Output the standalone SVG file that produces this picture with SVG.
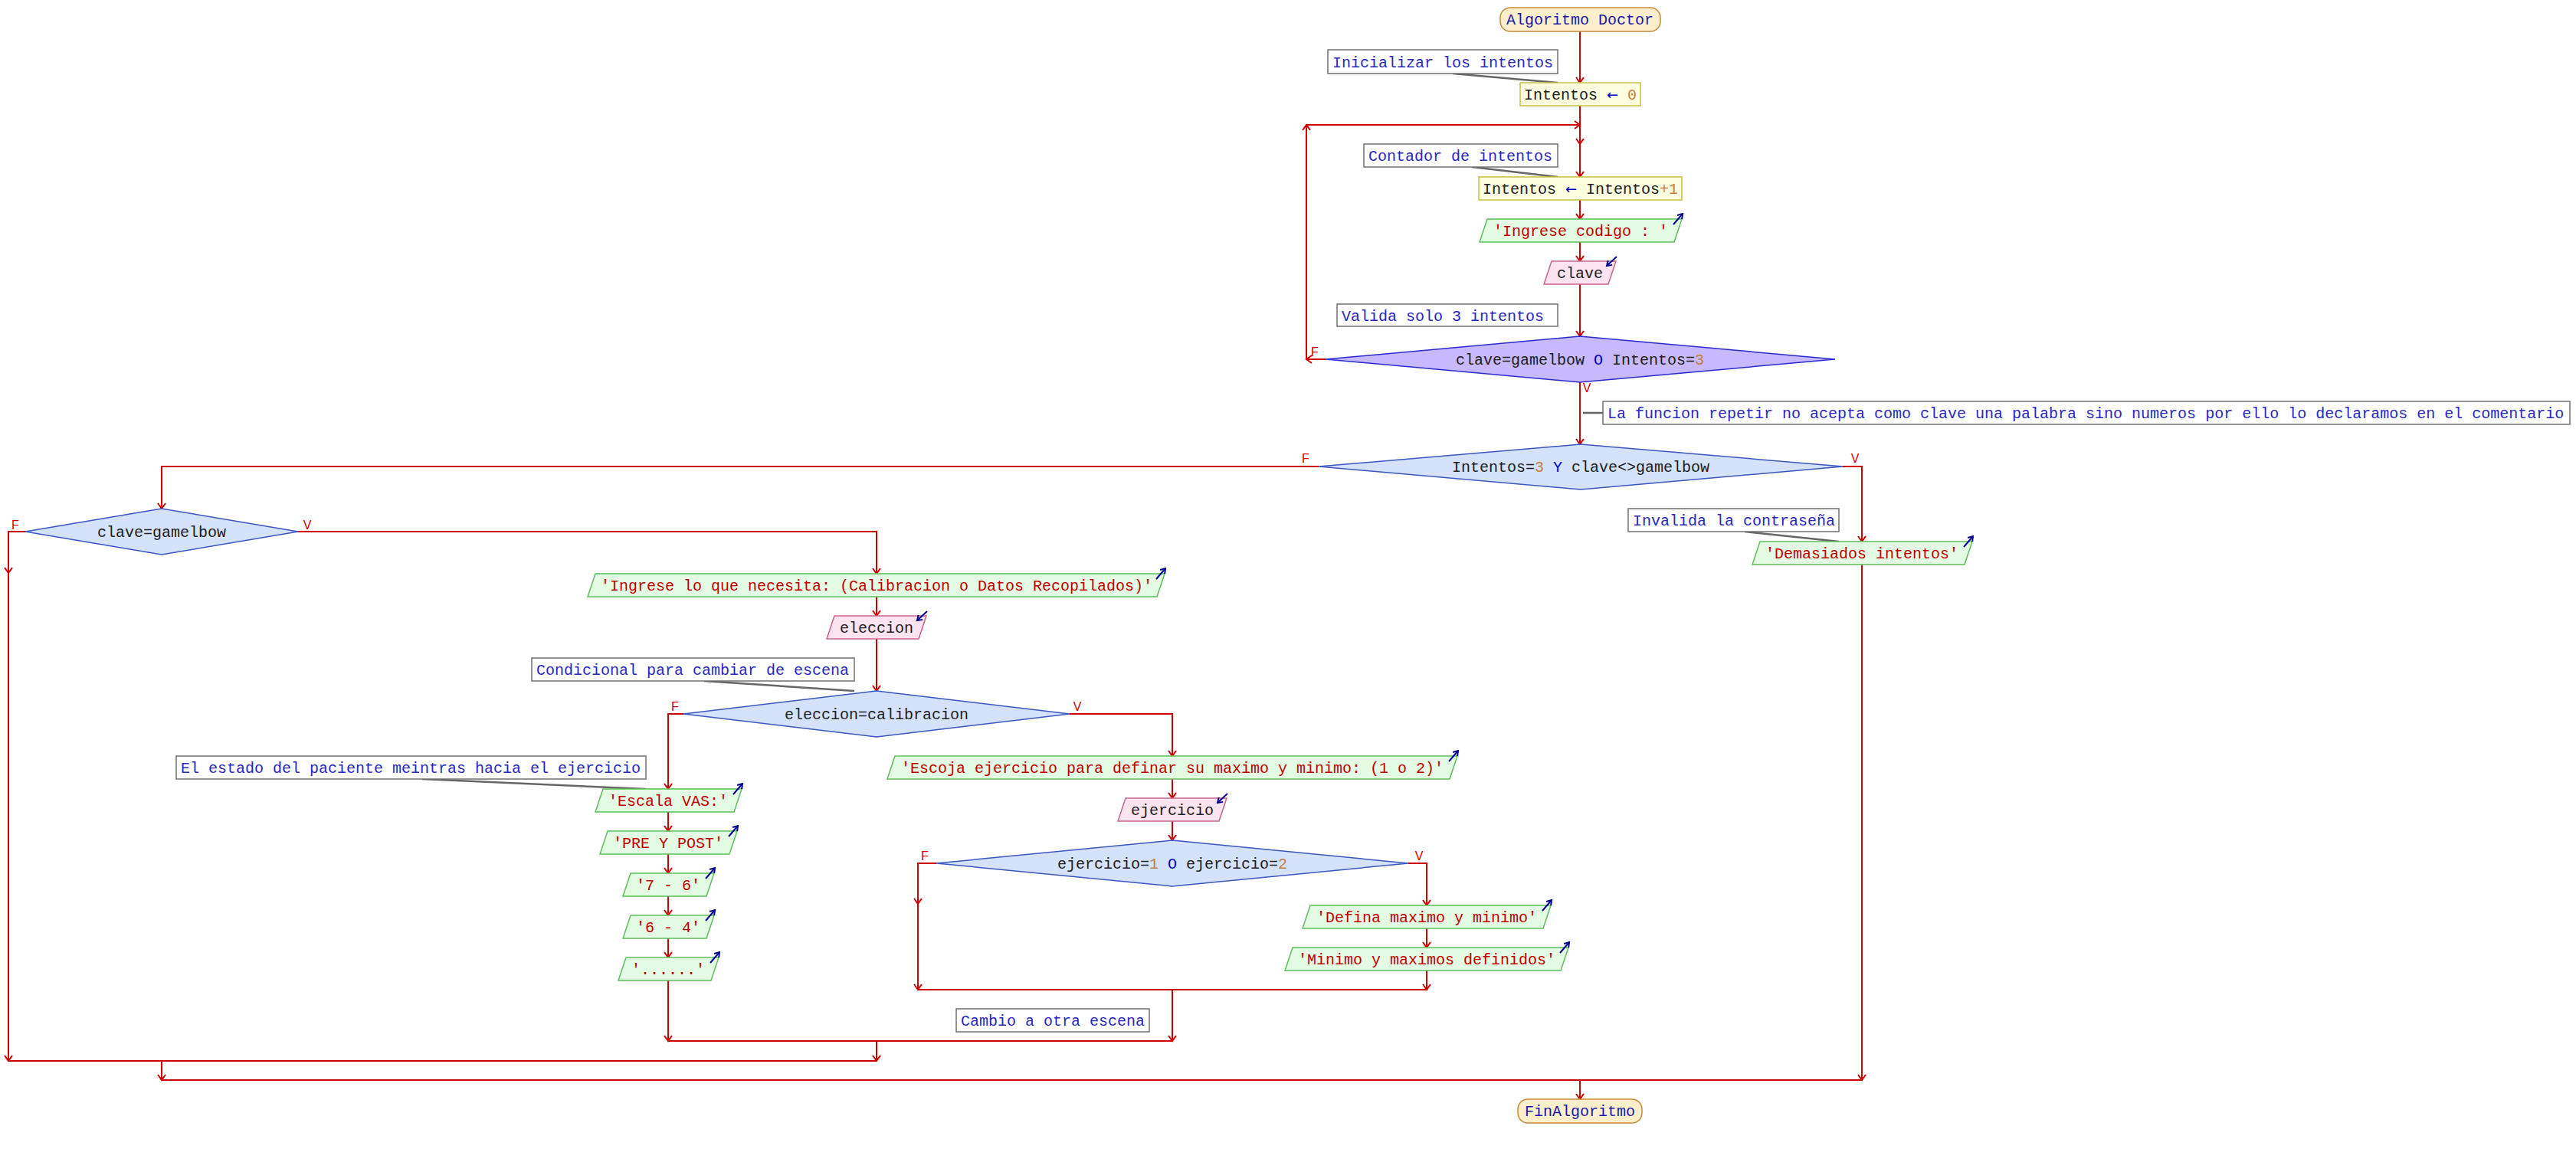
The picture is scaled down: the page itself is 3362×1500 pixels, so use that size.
<svg xmlns="http://www.w3.org/2000/svg" width="3362" height="1500" viewBox="0 0 3362 1500">
<style>
text{font-family:"Liberation Mono","DejaVu Sans Mono",monospace;font-size:20px}
.tm rect{fill:#fdefcc;stroke:#c88a3a;stroke-width:1.5}
.tm text{fill:#1a1aa6;text-anchor:middle}
.pr rect{fill:#fdfde0;stroke:#c8c040;stroke-width:1.5}
.pr text,.dc text,.in text{fill:#202020;text-anchor:middle}
.ou polygon{fill:#e4fce4;stroke:#5cbf5c;stroke-width:1.5}
.ou text{fill:#c00000;text-anchor:middle}
.in polygon{fill:#fde4f0;stroke:#c8648c;stroke-width:1.5}
.dc polygon{fill:#d4e2fc;stroke:#3a56c0;stroke-width:1.5}
.dl polygon{fill:#c8b8fc;stroke:#2a2ad0;stroke-width:1.5}
.cm rect{fill:#fff;stroke:#707070;stroke-width:1.5}
.cm text{fill:#2828c0}
.cm line{stroke:#666;stroke-width:2.5}
.op{fill:#0000c0}
.ar{fill:#0000c0;font-family:"DejaVu Sans",sans-serif;font-size:18px}
.nu{fill:#c08040}
.io{stroke:#000090;stroke-width:2;fill:none;marker-end:url(#ab)}
#edges path{fill:none;stroke:#cc0000;stroke-width:2}
#edges path.a{marker-end:url(#ah)}
.lb{font-family:"Liberation Sans Narrow","Liberation Sans",sans-serif;font-size:16px;fill:#cc0000;text-anchor:middle}
</style>
<defs>
<marker id="ah" markerUnits="userSpaceOnUse" orient="auto" overflow="visible" markerWidth="1" markerHeight="1"><path d="M-7,-5 L0,0 L-7,5" fill="none" stroke="#cc0000" stroke-width="2"/></marker>
<marker id="ab" markerUnits="userSpaceOnUse" orient="auto" overflow="visible" markerWidth="1" markerHeight="1"><path d="M-6,-4 L0,0 L-6,4" fill="none" stroke="#000090" stroke-width="2"/></marker>
</defs>
<rect width="3362" height="1500" fill="#fff"/>
<g id="edges">
<path class="a" d="M2062,41 V108"/>
<path d="M2062,138 V163"/>
<path class="a" d="M1730,469 H1705"/>
<path class="a" d="M1705,469 V163"/>
<path class="a" d="M1705,163 H2062"/>
<path class="a" d="M2062,163 V188"/>
<path class="a" d="M2062,188 V231"/>
<path class="a" d="M2062,261 V286"/>
<path class="a" d="M2062,316 V341"/>
<path class="a" d="M2062,371 V439"/>
<path class="a" d="M2062,499 V580"/>
<path class="a" d="M1721,609 H211 V664"/>
<path class="a" d="M2405,609 H2430 V707"/>
<path class="a" d="M2430,737 V1410"/>
<path class="a" d="M33,694 H11 V748"/>
<path class="a" d="M11,748 V1385"/>
<path class="a" d="M389,694 H1144 V749"/>
<path class="a" d="M1144,779 V804"/>
<path class="a" d="M1144,834 V902"/>
<path class="a" d="M892,932 H872 V1030"/>
<path class="a" d="M872,1060 V1085"/>
<path class="a" d="M872,1115 V1140"/>
<path class="a" d="M872,1170 V1195"/>
<path class="a" d="M872,1225 V1250"/>
<path class="a" d="M872,1280 V1359"/>
<path class="a" d="M1396,932 H1530 V987"/>
<path class="a" d="M1530,1017 V1042"/>
<path class="a" d="M1530,1072 V1097"/>
<path class="a" d="M1222,1127 H1198 V1180"/>
<path class="a" d="M1198,1180 V1292"/>
<path class="a" d="M1838,1127 H1862 V1182"/>
<path class="a" d="M1862,1212 V1237"/>
<path class="a" d="M1862,1267 V1292"/>
<path d="M1198,1292 H1862"/>
<path class="a" d="M1530,1292 V1359"/>
<path d="M872,1359 H1530"/>
<path class="a" d="M1144,1359 V1385"/>
<path d="M11,1385 H1144"/>
<path class="a" d="M211,1385 V1410"/>
<path d="M211,1410 H2430"/>
<path class="a" d="M2062,1410 V1435"/>
<text class="lb" x="1716" y="465">F</text>
<text class="lb" x="2071" y="512">V</text>
<text class="lb" x="1704" y="604">F</text>
<text class="lb" x="2421" y="604">V</text>
<text class="lb" x="20" y="691">F</text>
<text class="lb" x="401" y="691">V</text>
<text class="lb" x="881" y="928">F</text>
<text class="lb" x="1406" y="928">V</text>
<text class="lb" x="1207" y="1123">F</text>
<text class="lb" x="1852" y="1123">V</text>
</g>
<g id="start" class="tm"><rect x="1958" y="10" width="209" height="31" rx="13"/><text x="2062" y="32">Algoritmo Doctor</text></g>
<g id="c1" class="cm"><line x1="1896" y1="96" x2="2033" y2="108"/><rect x="1733" y="65" width="300" height="31"/><text x="1739" y="88">Inicializar los intentos</text></g>
<g id="p1" class="pr"><rect x="1984" y="108" width="157" height="30"/><text x="2062.5" y="130"><tspan>Intentos </tspan><tspan class="ar">←</tspan><tspan class="nu"> 0</tspan></text></g>
<g id="c2" class="cm"><line x1="1921" y1="218" x2="2033" y2="231"/><rect x="1780" y="188" width="253" height="30"/><text x="1786" y="210">Contador de intentos</text></g>
<g id="p2" class="pr"><rect x="1930" y="231" width="265" height="30"/><text x="2062.5" y="253"><tspan>Intentos </tspan><tspan class="ar">←</tspan><tspan> Intentos</tspan><tspan class="nu">+1</tspan></text></g>
<g id="o1" class="ou"><polygon points="1941,286 2195,286 2185,316 1931,316"/><text x="2063" y="308">'Ingrese codigo : '</text><path class="io" d="M2184,293 L2196,279"/></g>
<g id="i1" class="in"><polygon points="2025,341 2109,341 2099,371 2015,371"/><text x="2062" y="363">clave</text><path class="io" d="M2110,335 L2097,347"/></g>
<g id="c3" class="cm"><rect x="1745" y="397" width="288" height="29"/><text x="1751" y="419">Valida solo 3 intentos</text></g>
<g id="d1" class="dl dc"><polygon points="2062,439 2395,469 2062,499 1730,469"/><text x="2062" y="476"><tspan>clave=gamelbow </tspan><tspan class="op">O</tspan><tspan> Intentos=</tspan><tspan class="nu">3</tspan></text></g>
<g id="c4" class="cm"><line x1="2066" y1="539" x2="2092" y2="539"/><rect x="2092" y="524" width="1262" height="30"/><text x="2098" y="546">La funcion repetir no acepta como clave una palabra sino numeros por ello lo declaramos en el comentario</text></g>
<g id="d2" class="dc"><polygon points="2063,580 2405,609 2063,639 1721,609"/><text x="2063" y="616"><tspan>Intentos=</tspan><tspan class="nu">3</tspan><tspan> </tspan><tspan class="op">Y</tspan><tspan> clave&lt;&gt;gamelbow</tspan></text></g>
<g id="d3" class="dc"><polygon points="211,664 389,694 211,724 33,694"/><text x="211" y="701">clave=gamelbow</text></g>
<g id="c5" class="cm"><line x1="2277" y1="694" x2="2400" y2="707"/><rect x="2125" y="664" width="275" height="30"/><text x="2131" y="686">Invalida la contraseña</text></g>
<g id="o2" class="ou"><polygon points="2297,707 2574,707 2564,737 2287,737"/><text x="2430" y="729">'Demasiados intentos'</text><path class="io" d="M2563,714 L2575,700"/></g>
<g id="o3" class="ou"><polygon points="777,749 1520,749 1510,779 767,779"/><text x="1144" y="771">'Ingrese lo que necesita: (Calibracion o Datos Recopilados)'</text><path class="io" d="M1509,756 L1521,742"/></g>
<g id="i2" class="in"><polygon points="1089,804 1209,804 1199,834 1079,834"/><text x="1144" y="826">eleccion</text><path class="io" d="M1210,798 L1197,810"/></g>
<g id="c6" class="cm"><line x1="919" y1="889" x2="1115" y2="902"/><rect x="694" y="859" width="421" height="30"/><text x="700" y="881">Condicional para cambiar de escena</text></g>
<g id="d4" class="dc"><polygon points="1144,902 1396,932 1144,962 892,932"/><text x="1144" y="939">eleccion=calibracion</text></g>
<g id="c7" class="cm"><line x1="551" y1="1017" x2="843" y2="1030"/><rect x="230" y="987" width="613" height="30"/><text x="236" y="1009">El estado del paciente meintras hacia el ejercicio</text></g>
<g id="o4" class="ou"><polygon points="787,1030 968,1030 958,1060 777,1060"/><text x="872" y="1052">'Escala VAS:'</text><path class="io" d="M957,1037 L969,1023"/></g>
<g id="o5" class="ou"><polygon points="793,1085 962,1085 952,1115 783,1115"/><text x="872" y="1107">'PRE Y POST'</text><path class="io" d="M951,1092 L963,1078"/></g>
<g id="o6" class="ou"><polygon points="823,1140 932,1140 922,1170 813,1170"/><text x="872" y="1162">'7 - 6'</text><path class="io" d="M921,1147 L933,1133"/></g>
<g id="o7" class="ou"><polygon points="823,1195 932,1195 922,1225 813,1225"/><text x="872" y="1217">'6 - 4'</text><path class="io" d="M921,1202 L933,1188"/></g>
<g id="o8" class="ou"><polygon points="817,1250 938,1250 928,1280 807,1280"/><text x="872" y="1272">'......'</text><path class="io" d="M927,1257 L939,1243"/></g>
<g id="o9" class="ou"><polygon points="1168,987 1902,987 1892,1017 1158,1017"/><text x="1530" y="1009">'Escoja ejercicio para definar su maximo y minimo: (1 o 2)'</text><path class="io" d="M1891,994 L1903,980"/></g>
<g id="i3" class="in"><polygon points="1469,1042 1601,1042 1591,1072 1459,1072"/><text x="1530" y="1064">ejercicio</text><path class="io" d="M1602,1036 L1589,1048"/></g>
<g id="d5" class="dc"><polygon points="1530,1097 1838,1127 1530,1157 1222,1127"/><text x="1530" y="1134"><tspan>ejercicio=</tspan><tspan class="nu">1</tspan><tspan> </tspan><tspan class="op">O</tspan><tspan> ejercicio=</tspan><tspan class="nu">2</tspan></text></g>
<g id="o10" class="ou"><polygon points="1710,1182 2024,1182 2014,1212 1700,1212"/><text x="1862" y="1204">'Defina maximo y minimo'</text><path class="io" d="M2013,1189 L2025,1175"/></g>
<g id="o11" class="ou"><polygon points="1687,1237 2047,1237 2037,1267 1677,1267"/><text x="1862" y="1259">'Minimo y maximos definidos'</text><path class="io" d="M2036,1244 L2048,1230"/></g>
<g id="c8" class="cm"><rect x="1248" y="1317" width="252" height="30"/><text x="1254" y="1339">Cambio a otra escena</text></g>
<g id="end" class="tm"><rect x="1981" y="1435" width="162" height="31" rx="13"/><text x="2062" y="1457">FinAlgoritmo</text></g>
</svg>
